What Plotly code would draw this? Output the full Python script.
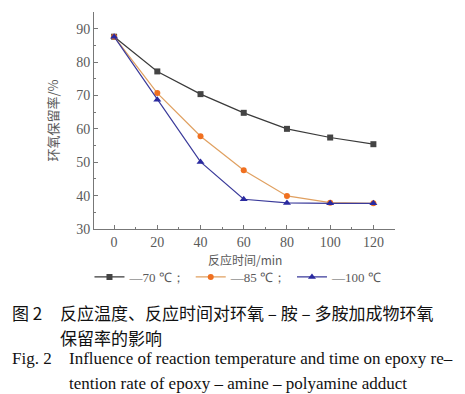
import plotly.graph_objects as go

time_min = [0, 20, 40, 60, 80, 100, 120]
rate_70 = [87.6, 77.2, 70.4, 64.8, 60.0, 57.4, 55.4]
rate_85 = [87.6, 70.7, 57.8, 47.6, 39.9, 37.9, 37.7]
rate_100 = [87.6, 68.7, 50.1, 38.9, 37.8, 37.7, 37.7]
series_names = ["—70 ℃；", "—85 ℃；", "—100 ℃"]
x_ticks = [0, 20, 40, 60, 80, 100, 120]
y_ticks = [30, 40, 50, 60, 70, 80, 90]

OFF = 8  # page body margin
W, H = 465 - OFF, 394 - OFF
L, R, T, B = 94 - OFF, 70, 12 - OFF, 165
pw, ph = W - L - R, H - T - B

def px(x):
    return (x - OFF - L) / pw

def py(y):
    return (H - B - (y - OFF)) / ph

serif = "Liberation Serif, Times New Roman, serif"
cjk = "Noto Sans CJK SC"
gray = "#5a5a5a"

fig = go.Figure()
fig.add_trace(go.Scatter(x=time_min, y=rate_70, name=series_names[0], mode="lines+markers",
                         line=dict(color="#3a3a3a", width=1.2),
                         marker=dict(symbol="square", size=6, color="#444444")))
fig.add_trace(go.Scatter(x=time_min, y=rate_85, name=series_names[1], mode="lines+markers",
                         line=dict(color="#e0a060", width=1.2),
                         marker=dict(symbol="circle", size=6, color="#f07020")))
fig.add_trace(go.Scatter(x=time_min, y=rate_100, name=series_names[2], mode="lines+markers",
                         line=dict(color="#3a3a9a", width=1.2),
                         marker=dict(symbol="triangle-up", size=7, color="#2a2aa0")))

axis_common = dict(showline=True, linecolor="#777777", linewidth=1, showgrid=False, zeroline=False,
                   ticks="inside", ticklen=4, tickcolor="#777777",
                   tickfont=dict(family=serif, size=14, color=gray))

fig.update_layout(
    width=W, height=H,
    margin=dict(l=L, r=R, t=T, b=B, pad=0, autoexpand=False),
    paper_bgcolor="white", plot_bgcolor="white",
    showlegend=True,
    legend=dict(orientation="h", x=0.48, y=py(277), xanchor="center", yanchor="middle",
                font=dict(family=serif, size=13, color=gray), itemwidth=30,
                tracegroupgap=0, bgcolor="rgba(0,0,0,0)"),
    xaxis=dict(range=[-9.3, 130], tickvals=x_ticks, ticktext=[str(v) for v in x_ticks],
               minor=dict(dtick=10, tick0=0, ticks="inside", ticklen=2, tickcolor="#777777"),
               automargin=False, **axis_common),
    yaxis=dict(range=[30, 95], tickvals=y_ticks, ticktext=[str(v) for v in y_ticks],
               minor=dict(dtick=5, tick0=30, ticks="inside", ticklen=2, tickcolor="#777777"),
               title=dict(text="环氧保留率/%", font=dict(family=cjk, size=13, color=gray), standoff=14),
               automargin=False, **axis_common),
)

# x-axis title placed like the reference (tightly between tick labels and legend)
fig.add_annotation(x=0.5, y=py(259), xref="paper", yref="paper", text="反应时间/min",
                   showarrow=False, xanchor="center", yanchor="middle", borderpad=0,
                   font=dict(family=cjk, size=12, color=gray))

caption_font_cn = dict(family=cjk, size=17, color="#111111")
caption_font_en = dict(family=serif, size=17, color="#111111")
captions = [
    (10, 312, "图 2", caption_font_cn),
    (58, 312, "反应温度、反应时间对环氧 – 胺 – 多胺加成物环氧", caption_font_cn),
    (58, 337, "保留率的影响", caption_font_cn),
    (10, 359, "Fig. 2", caption_font_en),
    (67, 359, "Influence of reaction temperature and time on epoxy re–", caption_font_en),
    (67, 383, "tention rate of epoxy – amine – polyamine adduct", caption_font_en),
]
for x, y, text, font in captions:
    fig.add_annotation(x=px(x), y=py(y), xref="paper", yref="paper", text=text, showarrow=False,
                       xanchor="left", yanchor="middle", font=font)

fig.write_html("out.html")
